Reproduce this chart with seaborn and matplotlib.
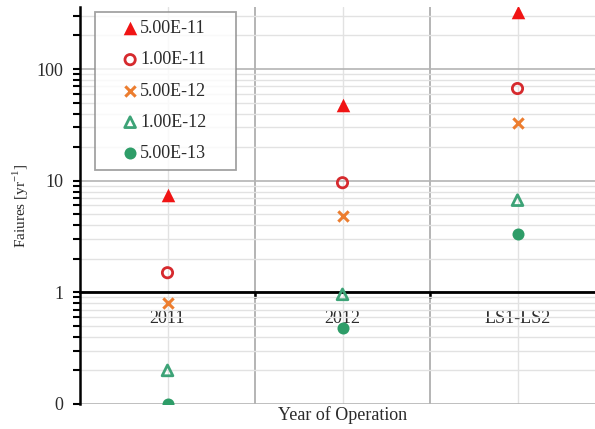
import numpy as np
import pandas as pd
import matplotlib
matplotlib.use("Agg")
import matplotlib.pyplot as plt
from matplotlib.collections import PathCollection
from matplotlib.legend_handler import HandlerPathCollection
from matplotlib.ticker import FixedLocator, FixedFormatter, NullFormatter
import seaborn as sns

# Operating periods on the x axis
periods = ["2011", "2012", "LS1-LS2"]

# Cross-section series (legend labels) and failure rates per period [1/yr]
series = ["5.00E-11", "1.00E-11", "5.00E-12", "1.00E-12", "5.00E-13"]
rate_5e11 = [7.5, 48, 325]
rate_1e11 = [1.5, 9.6, 67]
rate_5e12 = [0.8, 4.8, 33]
rate_1e12 = [0.2, 0.96, 6.7]
rate_5e13 = [0.1, 0.48, 3.35]

y_ticks = [0.1, 1, 10, 100]
y_tick_labels = ["0", "1", "10", "100"]

sns.set_theme(style="white")
plt.rcParams["font.family"] = ["Liberation Serif", "DejaVu Serif"]
plt.rcParams["mathtext.fontset"] = "custom"
plt.rcParams["mathtext.rm"] = "Liberation Serif"

values = [rate_5e11, rate_1e11, rate_5e12, rate_1e12, rate_5e13]
df = pd.DataFrame({
    "period": np.tile(periods, len(series)),
    "pos": np.tile(np.arange(len(periods)), len(series)),
    "series": np.repeat(series, len(periods)),
    "rate": np.concatenate(values),
})

styles = {
    "5.00E-11": dict(marker="^", color="#f01414", filled=True, s=95),
    "1.00E-11": dict(marker="o", color="#d62a2e", filled=False, s=55),
    "5.00E-12": dict(marker="x", color="#ec7d2f", filled=True, s=55),
    "1.00E-12": dict(marker="^", color="#3da377", filled=False, s=60),
    "5.00E-13": dict(marker="o", color="#2e9d68", filled=True, s=75),
}

W, H = 595, 429
fig = plt.figure(figsize=(W / 100, H / 100), dpi=100)
left, right, top, bottom = 80, 605, 7, 404
ax = fig.add_axes([left / W, 1 - bottom / H, (right - left) / W, (bottom - top) / H])

ax.set_yscale("log")
ax.set_ylim(0.1, 360)
ax.set_xlim(-0.5, 2.5)

# Grid: decades and category boundaries darker, minor lines lighter
ax.set_axisbelow(True)
ax.yaxis.set_major_locator(FixedLocator(y_ticks))
ax.yaxis.set_major_formatter(FixedFormatter(y_tick_labels))
minor = [m * 10.0 ** e for e in range(-1, 3) for m in range(2, 10)]
ax.yaxis.set_minor_locator(FixedLocator(minor))
ax.yaxis.set_minor_formatter(NullFormatter())
ax.grid(True, which="major", axis="y", color="#b4b4b4", lw=1.2)
ax.grid(True, which="minor", axis="y", color="#e2e2e2", lw=1.0)

ax.xaxis.set_major_locator(FixedLocator([0.5, 1.5]))
ax.xaxis.set_major_formatter(NullFormatter())
ax.xaxis.set_minor_locator(FixedLocator(range(len(periods))))
ax.xaxis.set_minor_formatter(FixedFormatter(periods))
ax.grid(True, which="major", axis="x", color="#a8a8a8", lw=1.2)
ax.grid(True, which="minor", axis="x", color="#e2e2e2", lw=1.0)

for name in series:
    st = styles[name]
    sub = df[df["series"] == name]
    if st["marker"] == "x":
        sns.scatterplot(data=sub, x="pos", y="rate", marker="x", s=st["s"],
                        color=st["color"], linewidth=2.2, ax=ax, label=name, zorder=5)
    elif st["filled"]:
        sns.scatterplot(data=sub, x="pos", y="rate", marker=st["marker"], s=st["s"],
                        color=st["color"], linewidth=0, ax=ax, label=name, zorder=5)
    else:
        sns.scatterplot(data=sub, x="pos", y="rate", marker=st["marker"], s=st["s"],
                        color=st["color"], linewidth=2.0, ax=ax, label=name, zorder=5)
        coll = ax.collections[-1]
        coll.set_facecolor("none")
        coll.set_edgecolor(st["color"])

# Axis lines: left spine black, category axis crossing at y = 1
for side in ["top", "right"]:
    ax.spines[side].set_visible(False)
ax.spines["left"].set_color("black")
ax.spines["left"].set_linewidth(1.8)
ax.spines["bottom"].set_position(("data", 1))
ax.spines["bottom"].set_color("black")
ax.spines["bottom"].set_linewidth(2.0)
ax.spines["bottom"].set_zorder(4)

text_color = "#2b2b2b"
ax.tick_params(axis="y", which="both", direction="out", length=5, width=1.5,
               color="black", left=True, labelsize=13, pad=7, labelcolor=text_color)
ax.tick_params(axis="x", which="major", direction="out", length=4, width=1.8,
               color="black", bottom=True)
ax.tick_params(axis="x", which="minor", length=0, labelsize=13, pad=13,
               labelcolor=text_color)

ax.set_xlabel("Year of Operation", fontsize=13, color=text_color)
ax.xaxis.set_label_coords(0.5, -0.006)
ax.set_ylabel("Faiures [yr$^{-1}$]", fontsize=11, color=text_color)
ax.yaxis.set_label_coords(-0.093, 0.5)

# Legend box spans a fixed width; entries stay left-aligned inside it,
# markers pushed right so they sit just before their labels
lx0, ly_top, lw_, lh_ = 95, 12, 141, 157
bbox = ((lx0 - left) / (right - left), (bottom - ly_top - lh_) / (bottom - top),
        lw_ / (right - left), lh_ / (bottom - top))
leg = ax.legend(loc="upper left", bbox_to_anchor=bbox, mode="expand", borderaxespad=0,
                frameon=True, fancybox=False, fontsize=13, labelspacing=0.79,
                handletextpad=0.2, borderpad=0.45, handlelength=1.85,
                handler_map={PathCollection: HandlerPathCollection(xpad=1.14)})
leg.get_frame().set_edgecolor("#8c8c8c")
leg.get_frame().set_linewidth(1.3)
for t in leg.get_texts():
    t.set_color(text_color)

fig.savefig("out.png", dpi=100)
